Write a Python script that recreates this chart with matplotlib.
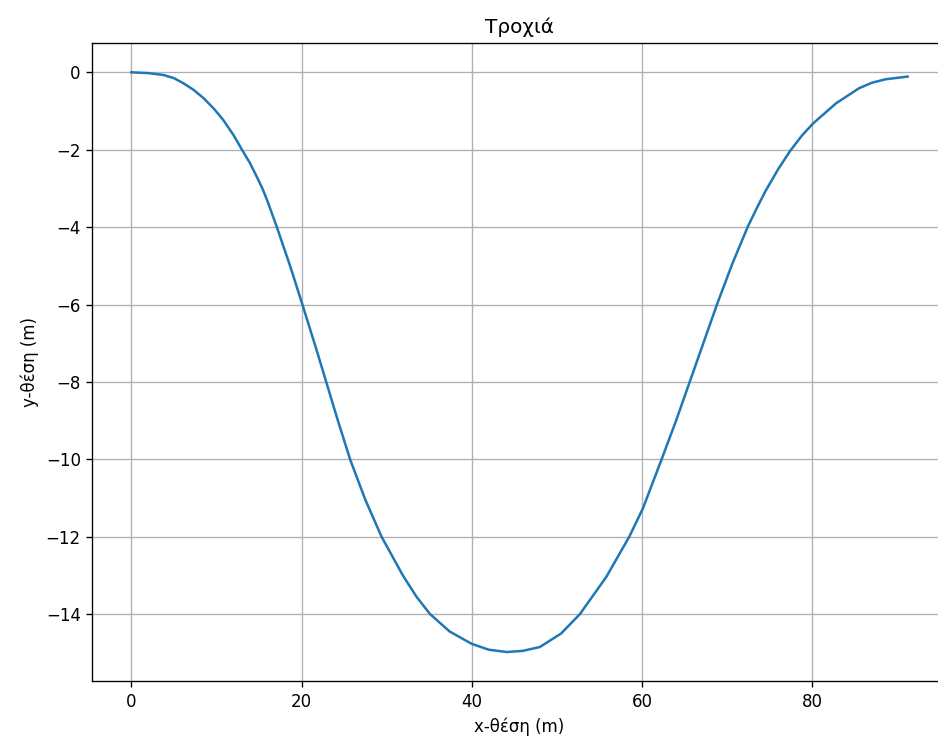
import matplotlib
matplotlib.use("Agg")
import matplotlib.pyplot as plt

x_pos = [0, 2, 3.8, 5, 6.1, 7.3, 8.5, 9.7, 10.8, 12.0, 13.0, 13.9, 14.7, 15.4,
         16.0, 17.1, 18.65, 20.1, 21.8, 22.76, 24.2, 25.7, 27.5, 29.4, 31.9,
         33.5, 35.1, 37.4, 40, 42, 44.1, 46, 48.0, 50.5, 52.7, 55.8, 58.5,
         60.1, 62.3, 64, 65.6, 67.2, 68.8, 70.6, 72.4, 73.5, 74.5, 76.0, 77.4,
         78.8, 80.1, 82.8, 85.5, 87.0, 88.6, 91.2]
y_pos = [0, -0.02, -0.07, -0.15, -0.28, -0.45, -0.67, -0.94, -1.23, -1.62,
         -2, -2.33, -2.68, -3.0, -3.33, -4, -5.0, -6, -7.2, -7.9, -8.95, -10,
         -11.05, -12, -13.0, -13.55, -14, -14.45, -14.77, -14.92, -14.98,
         -14.95, -14.85, -14.5, -14, -13.04, -12, -11.27, -10, -9.0, -8, -7.0,
         -6, -4.95, -4, -3.5, -3.07, -2.5, -2.03, -1.63, -1.32, -0.80, -0.41,
         -0.27, -0.18, -0.11]

title = "Τροχιά"
xlabel = "x-θέση (m)"
ylabel = "y-θέση (m)"

fig = plt.figure(figsize=(938 / 120, 742 / 120), dpi=120)
ax = fig.add_axes([0.0986, 0.0822, 0.9104, 0.8594])
ax.plot(x_pos, y_pos, color="#1f77b4", linewidth=1.5)
ax.set_title(title)
ax.set_xlabel(xlabel)
ax.set_ylabel(ylabel)
ax.grid(True)
fig.savefig("out.png", dpi=120)
